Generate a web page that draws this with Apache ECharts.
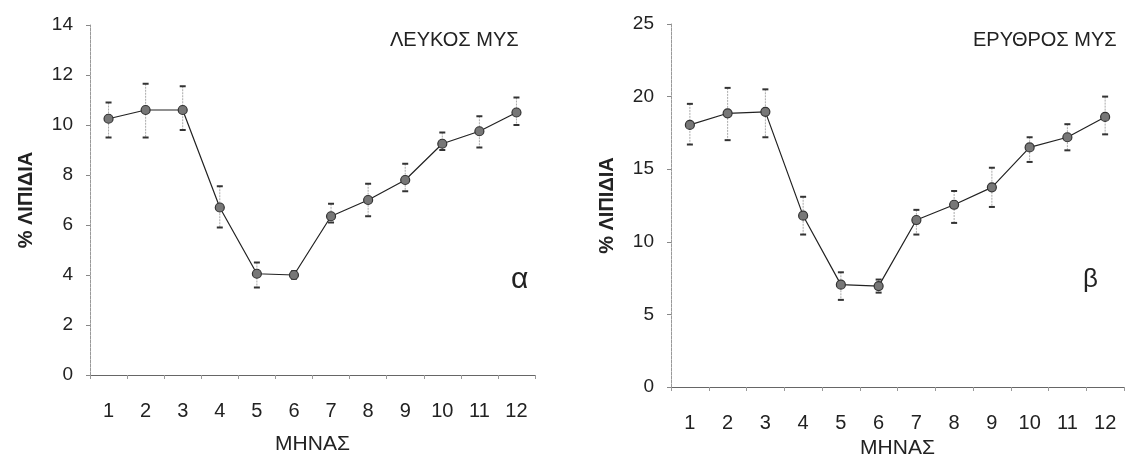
<!DOCTYPE html>
<html>
<head>
<meta charset="utf-8">
<script src="https://cdn.jsdelivr.net/npm/echarts@6/dist/echarts.min.js"></script>
<style>
html,body{margin:0;padding:0;background:#fff;}
#chart{width:1130px;height:454px;}
</style>
</head>
<body>
<div id="chart"></div>
<script>
// ---- data ----
var months = ['1','2','3','4','5','6','7','8','9','10','11','12'];
var leftTicks = [0, 2, 4, 6, 8, 10, 12, 14];
var rightTicks = [0, 5, 10, 15, 20, 25];

var whiteMean  = [10.25, 10.6, 10.6, 6.7, 4.05, 4.0, 6.35, 7.0, 7.8, 9.25, 9.75, 10.5];
var whiteUpper = [10.9, 11.65, 11.55, 7.55, 4.5, 4.15, 6.85, 7.65, 8.45, 9.7, 10.35, 11.1];
var whiteLower = [9.5, 9.5, 9.8, 5.9, 3.5, 3.85, 6.1, 6.35, 7.35, 9.0, 9.1, 10.0];

var redMean  = [18.05, 18.85, 18.95, 11.8, 7.05, 6.95, 11.5, 12.55, 13.75, 16.5, 17.2, 18.6];
var redUpper = [19.5, 20.6, 20.5, 13.1, 7.9, 7.4, 12.2, 13.5, 15.1, 17.2, 18.1, 20.0];
var redLower = [16.7, 17.0, 17.2, 10.5, 6.0, 6.5, 10.5, 11.3, 12.4, 15.5, 16.3, 17.4];

var FONT = '"Liberation Sans", Arial, sans-serif';
var TXT = '#222';

function errData(lo, hi) {
  return months.map(function (m, i) { return [i, lo[i], hi[i]]; });
}

function renderErr(params, api) {
  var x = api.value(0);
  var lo = api.coord([x, api.value(1)]);
  var hi = api.coord([x, api.value(2)]);
  var w = 3;
  return {
    type: 'group',
    children: [
      { type: 'line', shape: { x1: hi[0], y1: hi[1], x2: lo[0], y2: lo[1] },
        style: { stroke: '#aaa', lineWidth: 1, lineDash: [2, 1] } },
      { type: 'line', shape: { x1: hi[0] - w, y1: hi[1], x2: hi[0] + w, y2: hi[1] },
        style: { stroke: '#333', lineWidth: 2 } },
      { type: 'line', shape: { x1: lo[0] - w, y1: lo[1], x2: lo[0] + w, y2: lo[1] },
        style: { stroke: '#333', lineWidth: 2 } }
    ]
  };
}

function xAxisCfg(gridIndex, nameGap) {
  return {
    type: 'category', gridIndex: gridIndex, data: months,
    name: 'ΜΗΝΑΣ', nameLocation: 'middle', nameGap: nameGap,
    nameTextStyle: { fontFamily: FONT, fontSize: 21, color: TXT },
    axisLine: { lineStyle: { color: '#666', width: 1 } },
    axisTick: { show: true, length: 4, lineStyle: { color: '#999' } },
    axisLabel: { fontFamily: FONT, fontSize: 20, color: TXT, margin: 26 },
    splitLine: { show: false }
  };
}

function yAxisCfg(gridIndex, max, interval) {
  return {
    type: 'value', gridIndex: gridIndex, min: 0, max: max, interval: interval,
    name: '% ΛΙΠΙΔΙΑ', nameLocation: 'middle', nameGap: 54,
    nameTextStyle: { fontFamily: FONT, fontSize: 20, color: TXT, fontWeight: 'bold' },
    axisLine: { show: true, lineStyle: { color: '#999', width: 1, type: [3, 1] } },
    axisTick: { show: true, length: 4, lineStyle: { color: '#888' } },
    axisLabel: { fontFamily: FONT, fontSize: 19, color: TXT, margin: 17 },
    splitLine: { show: false }
  };
}

var lineStyleCfg = { color: '#222', width: 1.2 };
var itemCfg = { color: '#777', borderColor: '#333', borderWidth: 1.2 };

var option = {
  backgroundColor: '#fff',
  animation: false,
  title: [
    { text: 'ΛΕΥΚΟΣ ΜΥΣ', left: 385, top: 25,
      textStyle: { fontFamily: FONT, fontSize: 20, fontWeight: 'normal', color: TXT } },
    { text: 'ΕΡΥΘΡΟΣ ΜΥΣ', left: 968, top: 25,
      textStyle: { fontFamily: FONT, fontSize: 20, fontWeight: 'normal', color: TXT } },
    { text: 'α', left: 506, top: 260,
      textStyle: { fontFamily: FONT, fontSize: 30, fontWeight: 'normal', color: TXT } },
    { text: 'β', left: 1078, top: 262,
      textStyle: { fontFamily: FONT, fontSize: 26, fontWeight: 'normal', color: TXT } }
  ],
  grid: [
    { left: 90, top: 25, width: 445, height: 350, outerBoundsMode: 'none', containLabel: false },
    { left: 671, top: 24, width: 453, height: 363, outerBoundsMode: 'none', containLabel: false }
  ],
  xAxis: [xAxisCfg(0, 59), xAxisCfg(1, 42)],
  yAxis: [yAxisCfg(0, leftTicks[leftTicks.length - 1], leftTicks[1] - leftTicks[0]),
          yAxisCfg(1, rightTicks[rightTicks.length - 1], rightTicks[1] - rightTicks[0])],
  series: [
    { type: 'custom', xAxisIndex: 0, yAxisIndex: 0, renderItem: renderErr,
      data: errData(whiteLower, whiteUpper), z: 1, silent: true },
    { type: 'line', xAxisIndex: 0, yAxisIndex: 0, data: whiteMean,
      symbol: 'circle', symbolSize: 9, lineStyle: lineStyleCfg, itemStyle: itemCfg, z: 3 },
    { type: 'custom', xAxisIndex: 1, yAxisIndex: 1, renderItem: renderErr,
      data: errData(redLower, redUpper), z: 1, silent: true },
    { type: 'line', xAxisIndex: 1, yAxisIndex: 1, data: redMean,
      symbol: 'circle', symbolSize: 9, lineStyle: lineStyleCfg, itemStyle: itemCfg, z: 3 }
  ]
};

var chart = echarts.init(document.getElementById('chart'), null, { renderer: 'canvas' });
chart.setOption(option);
</script>
</body>
</html>
